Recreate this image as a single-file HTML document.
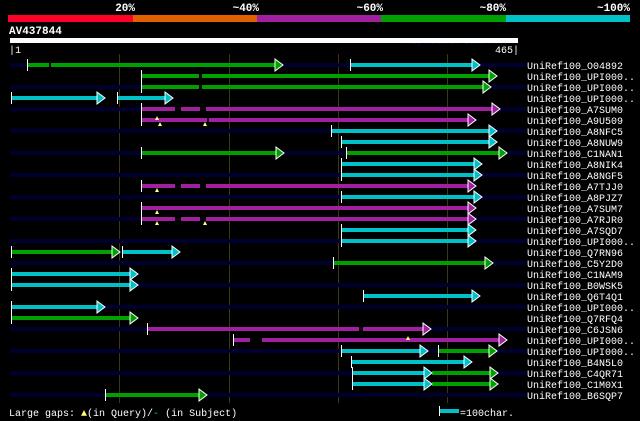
<!DOCTYPE html><html><head><style>body{margin:0;background:#000}svg{display:block}text{font-family:"Liberation Mono",monospace}</style></head><body>
<svg width="640" height="421" viewBox="0 0 640 421" xmlns="http://www.w3.org/2000/svg">
<rect width="640" height="421" fill="#000"/>
<g font-weight="bold" font-size="11" fill="#fff" text-anchor="end">
<text x="135" y="11">20%</text><text x="259" y="11">~40%</text><text x="383" y="11">~60%</text><text x="506" y="11">~80%</text><text x="630" y="11">~100%</text></g>
<rect x="8" y="15" width="125" height="7" fill="#ff0028"/>
<rect x="133" y="15" width="124" height="7" fill="#e06000"/>
<rect x="257" y="15" width="124" height="7" fill="#a020a0"/>
<rect x="381" y="15" width="125" height="7" fill="#00a000"/>
<rect x="506" y="15" width="124" height="7" fill="#00c0c8"/>
<text x="9" y="34" font-weight="bold" font-size="11" fill="#fff">AV437844</text>
<text x="402" y="44" font-size="8" fill="#101040">AlignView.pm Beta rel.7</text>
<rect x="10" y="38" width="508" height="5" fill="#fff"/>
<text x="9" y="53" font-size="10" fill="#fff">|1</text>
<text x="519" y="53" font-size="10" fill="#fff" text-anchor="end">465|</text>
<g stroke="#3a3a10" stroke-width="1"><line x1="119.5" y1="54" x2="119.5" y2="403"/><line x1="229.5" y1="54" x2="229.5" y2="403"/><line x1="338.5" y1="54" x2="338.5" y2="403"/><line x1="447.5" y1="54" x2="447.5" y2="403"/></g>
<g fill="#000030">
<rect x="10" y="63" width="516" height="4"/><rect x="10" y="85" width="516" height="4"/><rect x="10" y="107" width="516" height="4"/><rect x="10" y="129" width="516" height="4"/><rect x="10" y="151" width="516" height="4"/><rect x="10" y="173" width="516" height="4"/><rect x="10" y="195" width="516" height="4"/><rect x="10" y="217" width="516" height="4"/><rect x="10" y="239" width="516" height="4"/><rect x="10" y="261" width="516" height="4"/><rect x="10" y="283" width="516" height="4"/><rect x="10" y="305" width="516" height="4"/><rect x="10" y="327" width="516" height="4"/><rect x="10" y="349" width="516" height="4"/><rect x="10" y="371" width="516" height="4"/><rect x="10" y="393" width="516" height="4"/>
</g>
<defs>
<g id="tG"><polygon points="-6,-6 2,0 -6,6" fill="#00a000" stroke="#fff" stroke-width="1"/></g>
<g id="tC"><polygon points="-6,-6 2,0 -6,6" fill="#00c0c8" stroke="#fff" stroke-width="1"/></g>
<g id="tM"><polygon points="-6,-6 2,0 -6,6" fill="#a020a0" stroke="#fff" stroke-width="1"/></g>
</defs>
<g id="bars">
<!-- helper: rect bar + tick + arrow -->
<rect x="27" y="63" width="254" height="4" fill="#00a000"/><use href="#tG" x="281" y="65"/><line x1="27.5" y1="59" x2="27.5" y2="71" stroke="#fff"/>
<rect x="350" y="63" width="128" height="4" fill="#00c0c8"/><use href="#tC" x="478" y="65"/><line x1="350.5" y1="59" x2="350.5" y2="71" stroke="#fff"/>
<rect x="141" y="74" width="354" height="4" fill="#00a000"/><use href="#tG" x="495" y="76"/><line x1="141.5" y1="70" x2="141.5" y2="82" stroke="#fff"/>
<rect x="141" y="85" width="348" height="4" fill="#00a000"/><use href="#tG" x="489" y="87"/><line x1="141.5" y1="81" x2="141.5" y2="93" stroke="#fff"/>
<rect x="11" y="96" width="92" height="4" fill="#00c0c8"/><use href="#tC" x="103" y="98"/><line x1="11.5" y1="92" x2="11.5" y2="104" stroke="#fff"/>
<rect x="117" y="96" width="54" height="4" fill="#00c0c8"/><use href="#tC" x="171" y="98"/><line x1="117.5" y1="92" x2="117.5" y2="104" stroke="#fff"/>
<rect x="141" y="107" width="357" height="4" fill="#a020a0"/><use href="#tM" x="498" y="109"/><line x1="141.5" y1="103" x2="141.5" y2="115" stroke="#fff"/>
<rect x="141" y="118" width="333" height="4" fill="#a020a0"/><use href="#tM" x="474" y="120"/><line x1="141.5" y1="114" x2="141.5" y2="126" stroke="#fff"/>
<rect x="331" y="129" width="164" height="4" fill="#00c0c8"/><use href="#tC" x="495" y="131"/><line x1="331.5" y1="125" x2="331.5" y2="137" stroke="#fff"/>
<rect x="341" y="140" width="154" height="4" fill="#00c0c8"/><use href="#tC" x="495" y="142"/><line x1="341.5" y1="136" x2="341.5" y2="148" stroke="#fff"/>
<rect x="141" y="151" width="141" height="4" fill="#00a000"/><use href="#tG" x="282" y="153"/><line x1="141.5" y1="147" x2="141.5" y2="159" stroke="#fff"/>
<rect x="346" y="151" width="159" height="4" fill="#00a000"/><use href="#tG" x="505" y="153"/><line x1="346.5" y1="147" x2="346.5" y2="159" stroke="#fff"/>
<rect x="341" y="162" width="139" height="4" fill="#00c0c8"/><use href="#tC" x="480" y="164"/><line x1="341.5" y1="158" x2="341.5" y2="170" stroke="#fff"/>
<rect x="341" y="173" width="139" height="4" fill="#00c0c8"/><use href="#tC" x="480" y="175"/><line x1="341.5" y1="169" x2="341.5" y2="181" stroke="#fff"/>
<rect x="141" y="184" width="333" height="4" fill="#a020a0"/><use href="#tM" x="474" y="186"/><line x1="141.5" y1="180" x2="141.5" y2="192" stroke="#fff"/>
<rect x="341" y="195" width="139" height="4" fill="#00c0c8"/><use href="#tC" x="480" y="197"/><line x1="341.5" y1="191" x2="341.5" y2="203" stroke="#fff"/>
<rect x="141" y="206" width="333" height="4" fill="#a020a0"/><use href="#tM" x="474" y="208"/><line x1="141.5" y1="202" x2="141.5" y2="214" stroke="#fff"/>
<rect x="141" y="217" width="333" height="4" fill="#a020a0"/><use href="#tM" x="474" y="219"/><line x1="141.5" y1="213" x2="141.5" y2="225" stroke="#fff"/>
<rect x="341" y="228" width="133" height="4" fill="#00c0c8"/><use href="#tC" x="474" y="230"/><line x1="341.5" y1="224" x2="341.5" y2="236" stroke="#fff"/>
<rect x="341" y="239" width="133" height="4" fill="#00c0c8"/><use href="#tC" x="474" y="241"/><line x1="341.5" y1="235" x2="341.5" y2="247" stroke="#fff"/>
<rect x="11" y="250" width="107" height="4" fill="#00a000"/><use href="#tG" x="118" y="252"/><line x1="11.5" y1="246" x2="11.5" y2="258" stroke="#fff"/>
<rect x="122" y="250" width="56" height="4" fill="#00c0c8"/><use href="#tC" x="178" y="252"/><line x1="122.5" y1="246" x2="122.5" y2="258" stroke="#fff"/>
<rect x="333" y="261" width="158" height="4" fill="#00a000"/><use href="#tG" x="491" y="263"/><line x1="333.5" y1="257" x2="333.5" y2="269" stroke="#fff"/>
<rect x="11" y="272" width="125" height="4" fill="#00c0c8"/><use href="#tC" x="136" y="274"/><line x1="11.5" y1="268" x2="11.5" y2="280" stroke="#fff"/>
<rect x="11" y="283" width="125" height="4" fill="#00c0c8"/><use href="#tC" x="136" y="285"/><line x1="11.5" y1="279" x2="11.5" y2="291" stroke="#fff"/>
<rect x="363" y="294" width="115" height="4" fill="#00c0c8"/><use href="#tC" x="478" y="296"/><line x1="363.5" y1="290" x2="363.5" y2="302" stroke="#fff"/>
<rect x="11" y="305" width="92" height="4" fill="#00c0c8"/><use href="#tC" x="103" y="307"/><line x1="11.5" y1="301" x2="11.5" y2="313" stroke="#fff"/>
<rect x="11" y="316" width="125" height="4" fill="#00a000"/><use href="#tG" x="136" y="318"/><line x1="11.5" y1="312" x2="11.5" y2="324" stroke="#fff"/>
<rect x="147" y="327" width="282" height="4" fill="#a020a0"/><use href="#tM" x="429" y="329"/><line x1="147.5" y1="323" x2="147.5" y2="335" stroke="#fff"/>
<rect x="233" y="338" width="272" height="4" fill="#a020a0"/><use href="#tM" x="505" y="340"/><line x1="233.5" y1="334" x2="233.5" y2="346" stroke="#fff"/>
<rect x="341" y="349" width="85" height="4" fill="#00c0c8"/><use href="#tC" x="426" y="351"/><line x1="341.5" y1="345" x2="341.5" y2="357" stroke="#fff"/>
<rect x="438" y="349" width="57" height="4" fill="#00a000"/><use href="#tG" x="495" y="351"/><line x1="438.5" y1="345" x2="438.5" y2="357" stroke="#fff"/>
<rect x="351" y="360" width="119" height="4" fill="#00c0c8"/><use href="#tC" x="470" y="362"/><line x1="351.5" y1="356" x2="351.5" y2="368" stroke="#fff"/>
<rect x="352" y="371" width="78" height="4" fill="#00c0c8"/><rect x="432" y="371" width="64" height="4" fill="#00a000"/><use href="#tC" x="430" y="373"/><use href="#tG" x="496" y="373"/><line x1="352.5" y1="367" x2="352.5" y2="379" stroke="#fff"/>
<rect x="352" y="382" width="78" height="4" fill="#00c0c8"/><rect x="432" y="382" width="64" height="4" fill="#00a000"/><use href="#tC" x="430" y="384"/><use href="#tG" x="496" y="384"/><line x1="352.5" y1="378" x2="352.5" y2="390" stroke="#fff"/>
<rect x="105" y="393" width="100" height="4" fill="#00a000"/><use href="#tG" x="205" y="395"/><line x1="105.5" y1="389" x2="105.5" y2="401" stroke="#fff"/>
</g>
<g fill="#000">
<rect x="49" y="63" width="2" height="4"/><rect x="199" y="74" width="3" height="4"/><rect x="199" y="85" width="3" height="4"/>
<rect x="175" y="107" width="6" height="4"/><rect x="200" y="107" width="6" height="4"/>
<rect x="207" y="118" width="2" height="4"/><rect x="175" y="184" width="6" height="4"/><rect x="200" y="184" width="6" height="4"/>
<rect x="175" y="217" width="6" height="4"/><rect x="200" y="217" width="6" height="4"/>
<rect x="359" y="327" width="4" height="4"/><rect x="250" y="338" width="12" height="4"/>
</g>
<g fill="#ffff80">
<polygon points="157,116 155,120 159,120"/><polygon points="160,122 158,126 162,126"/><polygon points="205,122 203,126 207,126"/>
<polygon points="157,188 155,192 159,192"/><polygon points="157,210 155,214 159,214"/><polygon points="157,221 155,225 159,225"/><polygon points="205,221 203,225 207,225"/>
<polygon points="408,336 406,340 410,340"/>
</g>
<g font-size="10" fill="#fff">
<text x="527" y="69">UniRef100_O04892</text><text x="527" y="80">UniRef100_UPI000..</text><text x="527" y="91">UniRef100_UPI000..</text><text x="527" y="102">UniRef100_UPI000..</text><text x="527" y="113">UniRef100_A7SUM0</text><text x="527" y="124">UniRef100_A9U509</text><text x="527" y="135">UniRef100_A8NFC5</text><text x="527" y="146">UniRef100_A8NUW9</text><text x="527" y="157">UniRef100_C1NAN1</text><text x="527" y="168">UniRef100_A8NIK4</text><text x="527" y="179">UniRef100_A8NGF5</text><text x="527" y="190">UniRef100_A7TJJ0</text><text x="527" y="201">UniRef100_A8PJZ7</text><text x="527" y="212">UniRef100_A7SUM7</text><text x="527" y="223">UniRef100_A7RJR0</text><text x="527" y="234">UniRef100_A7SQD7</text><text x="527" y="245">UniRef100_UPI000..</text><text x="527" y="256">UniRef100_Q7RN96</text><text x="527" y="267">UniRef100_C5Y2D0</text><text x="527" y="278">UniRef100_C1NAM9</text><text x="527" y="289">UniRef100_B0WSK5</text><text x="527" y="300">UniRef100_Q6T4Q1</text><text x="527" y="311">UniRef100_UPI000..</text><text x="527" y="322">UniRef100_Q7RFQ4</text><text x="527" y="333">UniRef100_C6JSN6</text><text x="527" y="344">UniRef100_UPI000..</text><text x="527" y="355">UniRef100_UPI000..</text><text x="527" y="366">UniRef100_B4N5L0</text><text x="527" y="377">UniRef100_C4QR71</text><text x="527" y="388">UniRef100_C1M0X1</text><text x="527" y="399">UniRef100_B6SQP7</text>
</g>
<text x="9" y="416" font-size="10" fill="#fff">Large gaps: <tspan fill="#ffff80">▲</tspan>(in Query)/<tspan fill="#00c0c8">-</tspan> (in Subject)</text>
<line x1="439.5" y1="406" x2="439.5" y2="416" stroke="#fff"/><rect x="440" y="409" width="19" height="4" fill="#00c0c8"/>
<text x="460" y="416" font-size="10" fill="#fff">=100char.</text>
</svg></body></html>
